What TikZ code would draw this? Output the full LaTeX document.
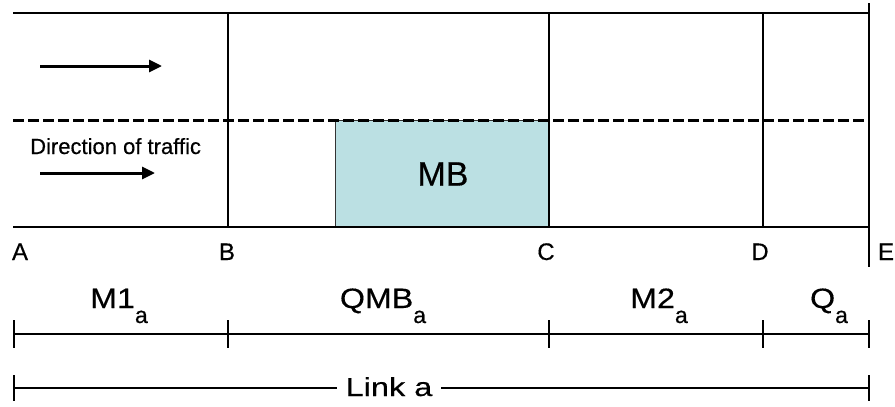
\documentclass[tikz,border=0pt]{standalone}
\usepackage{fontspec}
\usepackage{graphicx}
\setmainfont[FakeBold=0.4]{Liberation Sans}
\usetikzlibrary{arrows.meta}
\newcommand{\seg}[2]{\scalebox{1.15}[1]{#1}\raisebox{-15pt}{\fontsize{23}{26}\selectfont #2}}
\begin{document}
\begin{tikzpicture}[x=1pt,y=-1pt,
  road/.style={line width=2pt},
  lanesep/.style={line width=3pt, dash pattern=on 10.5pt off 4.5pt},
  flow/.style={line width=3pt, -{Triangle[length=13pt,width=12pt]}},
  dimline/.style={line width=1.8pt},
  mbbox/.style={draw=black!80, line width=1pt, fill={rgb,255:red,187;green,224;blue,227}},
  ptlab/.style={inner sep=0pt, anchor=base, font=\fontsize{24}{28}\selectfont},
  seglab/.style={inner sep=0pt, anchor=base, font=\fontsize{28}{32}\selectfont}
]
\useasboundingbox (0,0) rectangle (895,407);

% road corners and section points
\coordinate (TA) at (13,13);
\coordinate (TE) at (869,13);
\coordinate (BA) at (13,227);
\coordinate (BE) at (869,227);
\coordinate (E1) at (869,3);
\coordinate (E2) at (869,267);
\coordinate (DL) at (13,120);
\coordinate (DR) at (866,120);

% MB box
\draw[mbbox] (335,120) rectangle (549,227);
\node[inner sep=0pt, font=\fontsize{34}{38}\selectfont] (mb) at (443,174) {MB};

% road edges
\draw[road] (TA) -- (TE);
\draw[road] (BA) -- (BE);
\draw[road] (E1) -- (E2);
\foreach \n/\x in {B/228, C/549, D/763} {
  \coordinate (\n top) at (\x,13);
  \coordinate (\n bot) at (\x,227);
  \draw[road] (\n top) -- (\n bot);
}
\draw[lanesep] (DL) -- (DR);

% traffic arrows
\coordinate (a1s) at (40,66);
\coordinate (a1e) at (162,66);
\coordinate (a2s) at (40,173);
\coordinate (a2e) at (155,173);
\draw[flow] (a1s) -- (a1e);
\draw[flow] (a2s) -- (a2e);
\node[inner sep=0pt, anchor=base west, font=\fontsize{22}{24}\selectfont] (dir) at (30,154) {Direction of traffic};

% point labels
\node[ptlab] (lA) at (20,260) {A};
\node[ptlab] (lB) at (227,260) {B};
\node[ptlab] (lC) at (546,260) {C};
\node[ptlab] (lD) at (760,260) {D};
\node[ptlab] (lE) at (886,260) {E};

% section dimension line
\foreach \n/\x in {s0/14, s1/228, s2/549, s3/763, s4/869} {
  \coordinate (\n) at (\x,334);
  \draw[dimline] (\x,320) -- (\x,348);
}
\draw[dimline] (s0) -- (s4);
\node[seglab] (m1) at (119,308) {\seg{M1}{a}};
\node[seglab] (qmb) at (383,308) {\seg{QMB}{a}};
\node[seglab] (m2) at (659,308) {\seg{M2}{a}};
\node[seglab] (qa) at (829,308) {\seg{Q}{a}};

% link dimension line
\coordinate (L0) at (14,388);
\coordinate (L1) at (869,388);
\draw[dimline] (14,375) -- (14,401);
\draw[dimline] (869,375) -- (869,401);
\node[inner xsep=8pt, inner ysep=0pt, anchor=base, font=\fontsize{26}{30}\selectfont] (link) at (389,396) {\scalebox{1.25}[1]{Link a}};
\draw[dimline] (L0) -- (L0 -| link.west);
\draw[dimline] (L1) -- (L1 -| link.east);
\end{tikzpicture}
\end{document}
